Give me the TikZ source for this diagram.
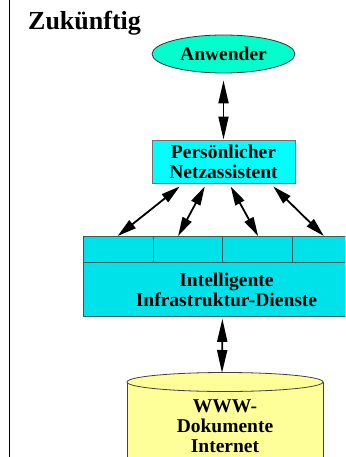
\documentclass[tikz,border=0pt]{standalone}
\usepackage{fontspec}
\setmainfont{Liberation Serif}
\usetikzlibrary{arrows.meta,shapes.geometric,calc}
\definecolor{anwcol}{HTML}{00FFCC}
\definecolor{netzcol}{HTML}{00FFFF}
\definecolor{infcol}{HTML}{00E2EA}
\definecolor{cylcol}{HTML}{FFFF99}
\definecolor{netzbd}{HTML}{707070}
\definecolor{infbd}{HTML}{2F5F5F}
\tikzset{
  lbl/.style={font=\bfseries\fontsize{19.5}{20}\selectfont, align=center, inner sep=0pt},
  dblarrow/.style={line width=1.8pt, {Triangle[length=23pt,width=10pt]}-{Triangle[length=23pt,width=10pt]}},
  diagarrow/.style={line width=1.8pt, {Triangle[length=19pt,width=10pt]}-{Triangle[length=19pt,width=10pt]}},
  cell/.style={draw=infbd, line width=0.8pt, fill=infcol, minimum height=26pt, inner sep=0pt, anchor=north west},
  cylline/.style={draw=black!75, line width=0.8pt}
}
\begin{document}
\begin{tikzpicture}[x=1pt,y=-1pt]
\useasboundingbox (0,0) rectangle (345,457);
\clip (0,0) rectangle (345,457);
% left rule
\draw[line width=1.6pt] (9.5,-5) -- (9.5,462);
% title
\node[anchor=base west, inner sep=0pt, font=\bfseries\fontsize{26}{28}\selectfont] (title) at (28,30) {Zukünftig};
% Anwender
\node[ellipse, draw=black!80, line width=0.8pt, fill=anwcol, minimum width=143pt, minimum height=38pt, inner sep=0pt, lbl] (anw) at (223.5,54) {Anwender};
% Netzassistent
\node[draw=netzbd, line width=0.9pt, fill=netzcol, minimum width=143pt, minimum height=43pt, inner sep=0pt, lbl] (netz) at (223.5,161.5) {Persönlicher\\Netzassistent};
% Infrastructure block
\node[draw=infbd, line width=0.8pt, fill=infcol, minimum width=279pt, minimum height=54pt, inner sep=0pt, anchor=north west] (infra) at (83,262) {};
\node[lbl] (inftext) at (226.5,289.5) {Intelligente\\Infrastruktur-Dienste};
\node[cell, minimum width=70pt] (c1) at (83,236) {};
\node[cell, minimum width=69pt] (c2) at (153,236) {};
\node[cell, minimum width=70pt] (c3) at (222,236) {};
\node[cell, minimum width=70pt] (c4) at (292,236) {};
% cylinder
\coordinate (cyltop) at (222,373);
\fill[cylcol] (127,382) rectangle (323,470);
\draw[cylline] (127,382) -- (127,470);
\draw[cylline] (323,382) -- (323,470);
\filldraw[cylline, fill=cylcol] (225,382) ellipse [x radius=98pt, y radius=9.5pt];
\node[lbl] (www) at (225,426.5) {WWW-\\Dokumente\\Internet};
% arrows
\draw[dblarrow] ($(anw.south)+(0,7)$) -- (netz.north);
\draw[diagarrow] ($(netz.south west)!0.196!(netz.south east)+(0,3)$) -- ($(c1.north west)!0.49!(c1.north east)$);
\draw[diagarrow] ($(netz.south west)!0.37!(netz.south east)+(0,3)$) -- ($(c2.north west)!0.36!(c2.north east)$);
\draw[diagarrow] ($(netz.south west)!0.55!(netz.south east)+(0,3)$) -- ($(c3.north west)!0.51!(c3.north east)$);
\draw[diagarrow] ($(netz.south west)!0.846!(netz.south east)+(0,3)$) -- ($(c4.north west)!0.45!(c4.north east)$);
\draw[dblarrow] ($(infra.south)+(-0.5,2)$) -- (cyltop);
\end{tikzpicture}
\end{document}
